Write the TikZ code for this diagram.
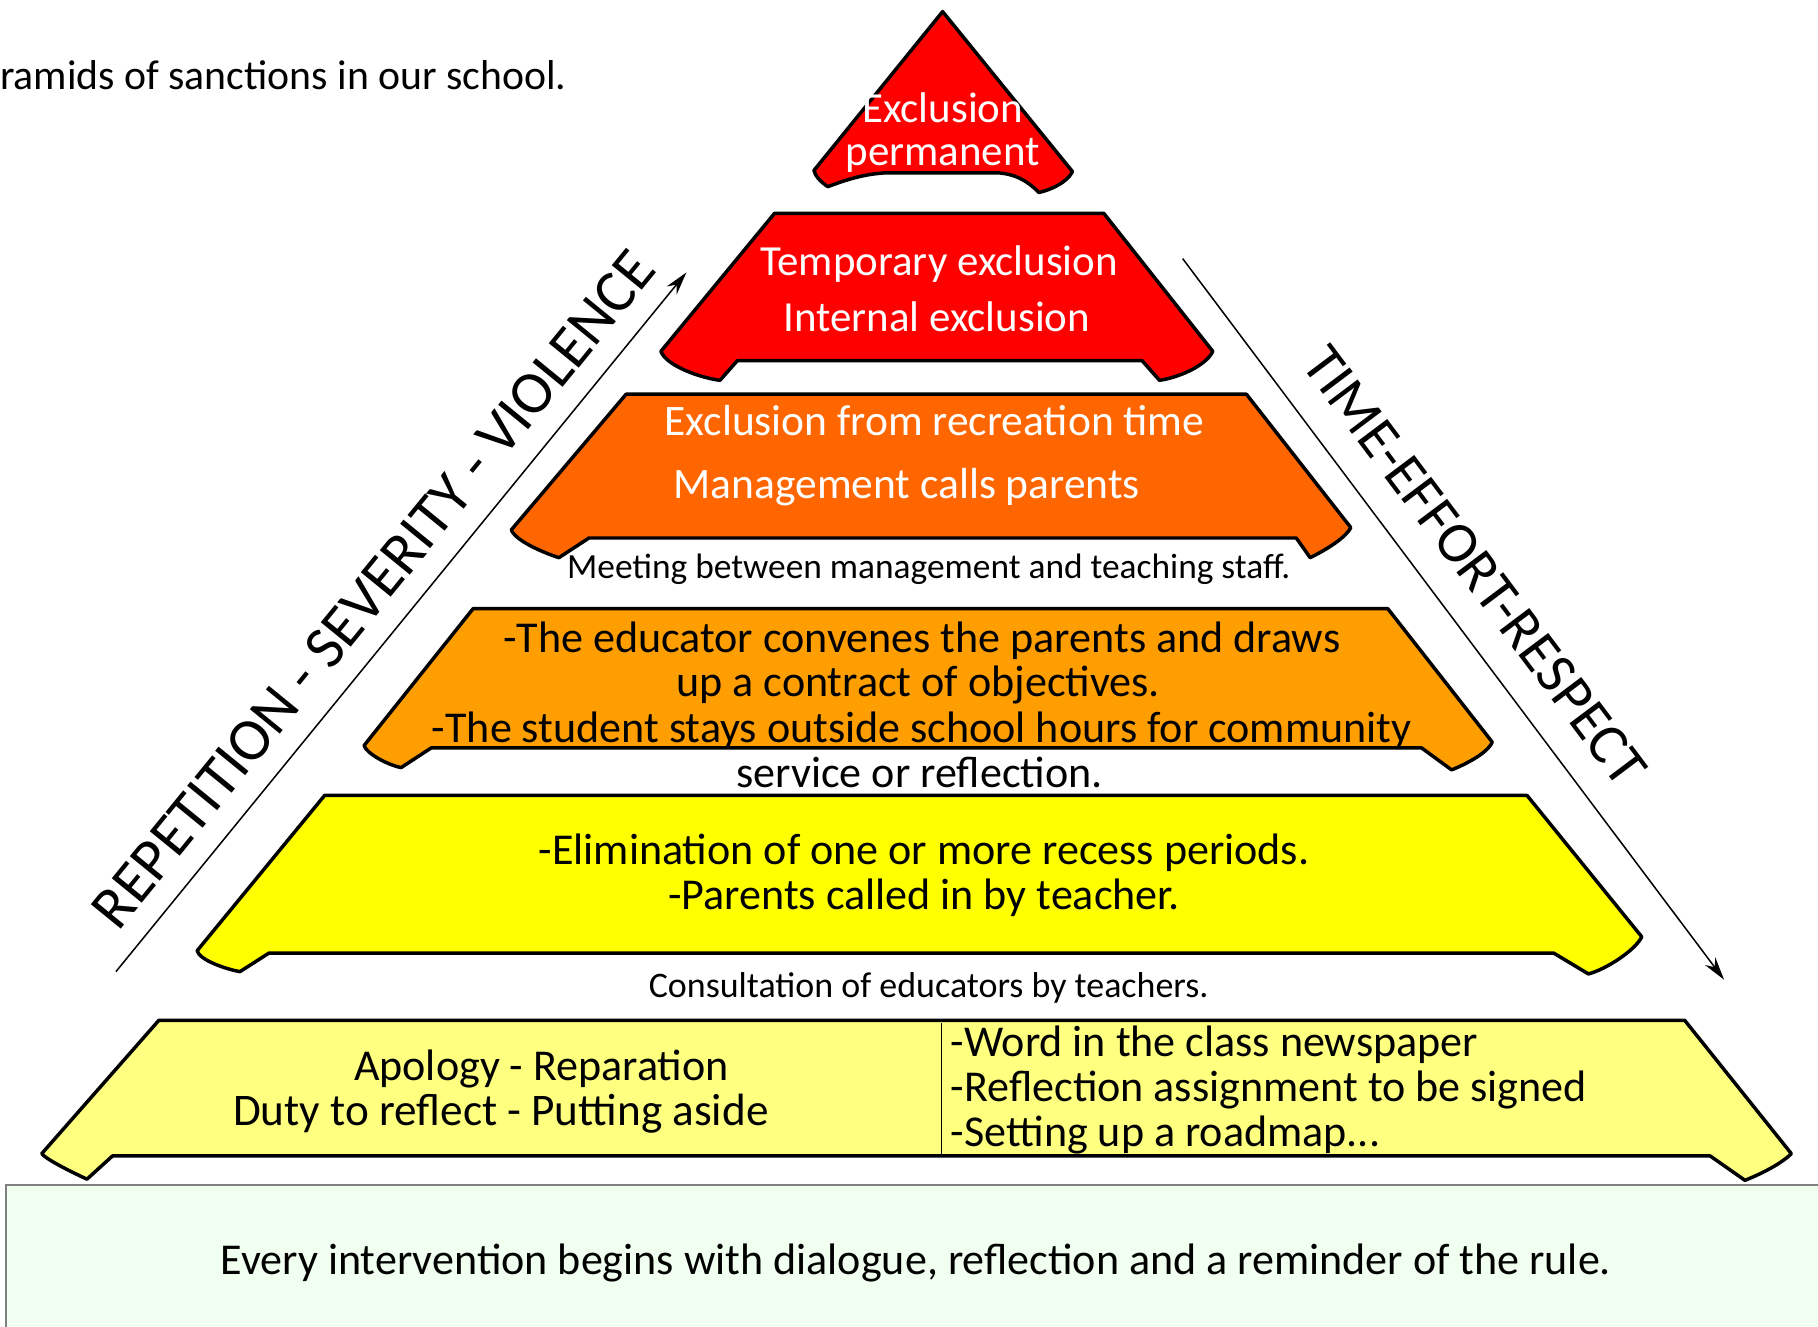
\documentclass[tikz,border=0pt]{standalone}
\usepackage{fontspec}
\setmainfont{Carlito}
\usetikzlibrary{arrows.meta}
\definecolor{tred}{HTML}{FF0000}
\definecolor{torange}{HTML}{FF6600}
\definecolor{tamber}{HTML}{FF9E00}
\definecolor{tyellow}{HTML}{FFFF00}
\definecolor{tpale}{HTML}{FFFF80}
\definecolor{tgreen}{HTML}{F0FFF0}
\tikzset{
  tier/.style={draw=black, line width=3pt, line join=round},
  lbl/.style={inner sep=0pt, anchor=base, font=\fontsize{38}{42}\selectfont},
  lblw/.style={inner sep=0pt, anchor=base, text=white, font=\fontsize{37}{41}\selectfont},
  small/.style={inner sep=0pt, anchor=base, font=\fontsize{31}{34}\selectfont},
  axis/.style={draw=black, line width=1.3pt, -{Stealth[length=20pt,width=11pt]}},
  axislbl/.style={inner sep=0pt, font=\fontsize{50}{54}\selectfont},
}
\begin{document}
\begin{tikzpicture}[x=1pt,y=-1pt]
\useasboundingbox (0,0) rectangle (1568,1144);
% bottom box
\draw[draw=gray, line width=1.5pt, fill=tgreen] (5,1022) rectangle (1580,1160);
% tiers
\path[tier, fill=tred] (813,10) -- (925,148) .. controls (920,158) and (905,164) .. (896,166) .. controls (885,155) and (875,150) .. (860,149) -- (765,149) .. controls (745,150) and (730,155) .. (714,161) .. controls (708,157) and (703,152) .. (702,147) -- cycle;
\path[tier, fill=tred] (668,184) -- (952,184) -- (1046,303) .. controls (1040,316) and (1015,326) .. (1000,328) -- (985,311) -- (636,311) -- (621,328) .. controls (605,326) and (575,316) .. (570,303) -- cycle;
\path[tier, fill=torange] (540,340) -- (1075,340) -- (1165,455) .. controls (1160,465) and (1140,476) .. (1130,481) -- (1118,464) -- (508,464) -- (482,481) .. controls (470,477) and (445,467) .. (441,457) -- cycle;
\path[tier, fill=tamber] (408,525) -- (1197,525) -- (1287,640) .. controls (1283,650) and (1262,660) .. (1252,664) -- (1226,645) -- (372,645) -- (346,662) .. controls (335,660) and (316,650) .. (314,643) -- cycle;
\path[tier, fill=tyellow] (280,686) -- (1317,686) -- (1416,808) .. controls (1410,820) and (1385,836) .. (1370,840) -- (1340,822) -- (232,822) -- (207,838) .. controls (195,836) and (172,828) .. (170,820) -- cycle;
\path[tier, fill=tpale] (137,880) -- (1453,880) -- (1545,995) .. controls (1535,1005) and (1515,1014) .. (1505,1018) -- (1475,997) -- (97,997) -- (75,1017) .. controls (60,1010) and (40,1000) .. (36,995) -- cycle;
\draw[line width=1pt] (812,882) -- (812,996);
% title
\node[inner sep=0pt, anchor=base west, font=\fontsize{36}{40}\selectfont] (title) at (0,77) {ramids of sanctions in our school.};
% tier texts
\node[lblw] (t1a) at (813,106) {Exclusion};
\node[lblw] (t1b) at (813,143) {permanent};
\node[lblw] (t2a) at (810,238) {Temporary exclusion};
\node[lblw] (t2b) at (808,286) {Internal exclusion};
\node[lblw, font=\fontsize{37.5}{41}\selectfont] (t3a) at (806,376) {Exclusion from recreation time};
\node[lblw, font=\fontsize{37.5}{41}\selectfont] (t3b) at (782,430) {Management calls parents};
\node[small, font=\fontsize{30.5}{34}\selectfont] (m3) at (801,499) {Meeting between management and teaching staff.};
\node[lbl] (t4a) at (795,563) {-The educator convenes the parents and draws};
\node[lbl] (t4b) at (792,601) {up a contract of objectives.};
\node[lbl] (t4c) at (795,640) {-The student stays outside school hours for community};
\node[lbl] (t4d) at (793,679) {service or reflection.};
\node[lbl] (t5a) at (797,746) {-Elimination of one or more recess periods.};
\node[lbl] (t5b) at (797,784) {-Parents called in by teacher.};
\node[small] (m5) at (801,860) {Consultation of educators by teachers.};
\node[lbl] (t6a) at (467,932) {Apology - Reparation};
\node[lbl, font=\fontsize{39}{42}\selectfont] (t6b) at (432,971) {Duty to reflect - Putting aside};
\node[lbl, anchor=base west] (t6c) at (820,911) {-Word in the class newspaper};
\node[lbl, anchor=base west] (t6d) at (820,950) {-Reflection assignment to be signed};
\node[lbl, anchor=base west] (t6e) at (820,989) {-Setting up a roadmap...};
\node[lbl] (foot) at (790,1099) {Every intervention begins with dialogue, reflection and a reminder of the rule.};
% axes
\coordinate (la) at (100,838);
\coordinate (lb) at (592,235);
\draw[axis] (la) -- (lb);
\coordinate (ra) at (1020,223);
\coordinate (rb) at (1487,845);
\draw[axis] (ra) -- (rb);
\node[axislbl, font=\fontsize{52}{56}\selectfont, rotate=50.8] (ltxt) at (322,508) {REPETITION - SEVERITY - VIOLENCE};
\node[axislbl, rotate=-53.1] (rtxt) at (1272,488) {TIME-EFFORT-RESPECT};
\end{tikzpicture}
\end{document}
